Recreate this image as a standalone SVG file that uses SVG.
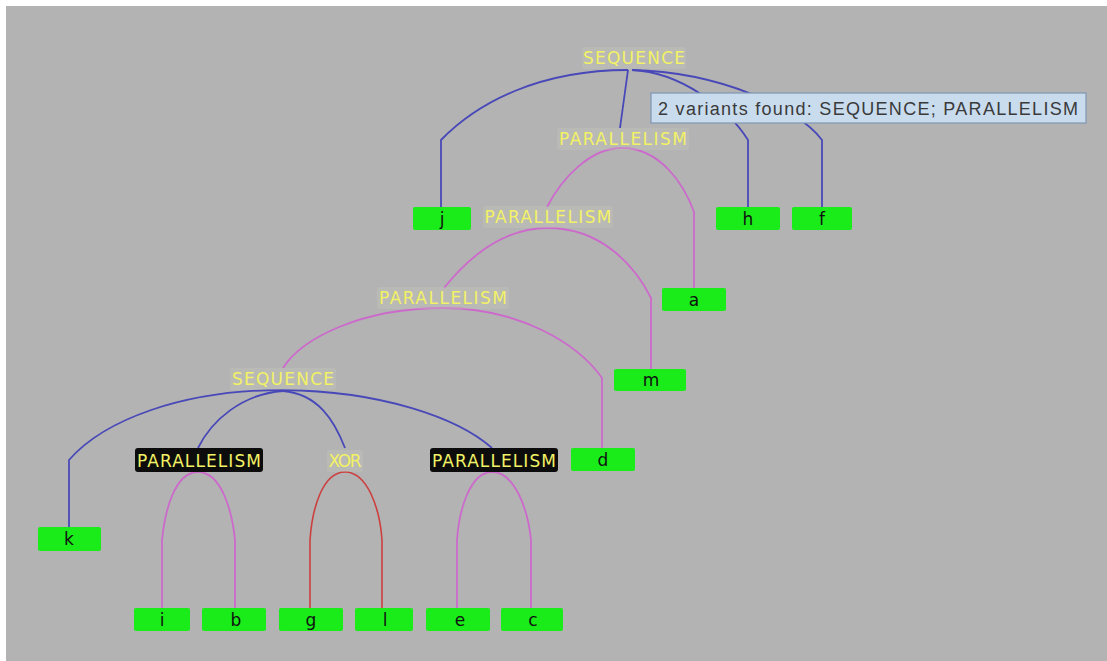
<svg xmlns="http://www.w3.org/2000/svg" width="1107" height="661" viewBox="0 0 1107 661">
  <style>
    .bg { fill: #b3b3b3; }
    .leaf rect { fill: #19ec19; }
    .leaf text { font-family: "DejaVu Sans", "Liberation Sans", sans-serif; font-size: 17px; fill: #111; text-anchor: middle; }
    .op text { font-family: "DejaVu Sans", "Liberation Sans", sans-serif; font-size: 17px; fill: #f2f266; text-anchor: middle; }
    .op .halo { fill: #c8c6b8; opacity: 0.3; }
    .op .dark { fill: #0c0c0c; }
    .seq { stroke: #4848b8; stroke-width: 1.8; fill: none; }
    .par { stroke: #cc6acc; stroke-width: 1.8; fill: none; }
    .xor { stroke: #cc4040; stroke-width: 1.6; fill: none; }
    .tip rect { fill: #c9dcee; stroke: #7f97b4; stroke-width: 1.2; }
    .tip text { font-family: "Liberation Sans", Arial, sans-serif; font-size: 18px; fill: #3a3a3a; }
  </style>

  <!-- canvas -->
  <rect x="0" y="0" width="1107" height="661" fill="#ffffff"/>
  <rect class="bg" x="6" y="6" width="1101" height="655"/>

  <!-- connectors -->
  <g id="connectors">
    <!-- root SEQUENCE -->
    <path class="seq" d="M628,70 C540,70 478,102 441,140 V208"/>
    <path class="seq" d="M628,70 L620,128"/>
    <path class="seq" d="M632,70 C680,72 728,108 748,140 V208"/>
    <path class="seq" d="M632,70 C720,72 798,108 822,140 V208"/>
    <!-- PARALLELISM (level 1) -->
    <path class="par" d="M622,148 C590,148 562,178 547,207"/>
    <path class="par" d="M622,148 C660,148 684,184 694,212 V288"/>
    <!-- PARALLELISM (level 2) -->
    <path class="par" d="M548,228 C502,228 468,258 444,288"/>
    <path class="par" d="M548,228 C600,228 634,264 651,298 V369"/>
    <!-- PARALLELISM (level 3) -->
    <path class="par" d="M443,308 C362,308 302,338 283,368"/>
    <path class="par" d="M443,308 C520,308 578,344 602,378 V448"/>
    <!-- inner SEQUENCE -->
    <path class="seq" d="M283,390 C182,390 104,420 69,460 V527"/>
    <path class="seq" d="M283,391 C242,394 212,420 198,448"/>
    <path class="seq" d="M283,391 C318,394 334,420 345,448"/>
    <path class="seq" d="M283,390 C382,391 458,418 492,448"/>
    <!-- PARALLELISM i / b -->
    <path class="par" d="M198,472 C175,472 165,510 162,540 V608"/>
    <path class="par" d="M198,472 C221,472 232,510 235,540 V608"/>
    <!-- XOR g / l -->
    <path class="xor" d="M345,472 C322,472 312,510 310,540 V608"/>
    <path class="xor" d="M345,472 C368,472 380,510 382,540 V608"/>
    <!-- PARALLELISM e / c -->
    <path class="par" d="M492,472 C470,472 459,510 457,540 V608"/>
    <path class="par" d="M492,472 C515,472 528,510 531,540 V608"/>
  </g>

  <!-- operator nodes -->
  <g id="op-seq-root" class="op">
    <rect class="halo" x="582" y="47" width="104" height="22" rx="2"/>
    <text x="634" y="64" textLength="102">SEQUENCE</text>
  </g>
  <g id="op-par-1" class="op">
    <rect class="halo" x="557" y="128" width="132" height="22" rx="2"/>
    <text x="623" y="145" textLength="128">PARALLELISM</text>
  </g>
  <g id="op-par-2" class="op">
    <rect class="halo" x="483" y="206" width="130" height="22" rx="2"/>
    <text x="548" y="223" textLength="127">PARALLELISM</text>
  </g>
  <g id="op-par-3" class="op">
    <rect class="halo" x="377" y="287" width="132" height="22" rx="2"/>
    <text x="443" y="304" textLength="128">PARALLELISM</text>
  </g>
  <g id="op-seq-inner" class="op">
    <rect class="halo" x="230" y="368" width="106" height="22" rx="2"/>
    <text x="283" y="385" textLength="102">SEQUENCE</text>
  </g>
  <g id="op-par-ib" class="op">
    <rect class="dark" x="135" y="448" width="128" height="24" rx="3"/>
    <text x="199" y="467" textLength="124">PARALLELISM</text>
  </g>
  <g id="op-xor" class="op">
    <rect class="halo" x="327" y="450" width="36" height="22" rx="2"/>
    <text x="345" y="467" textLength="33">XOR</text>
  </g>
  <g id="op-par-ec" class="op">
    <rect class="dark" x="430" y="448" width="128" height="24" rx="3"/>
    <text x="494" y="467" textLength="124">PARALLELISM</text>
  </g>

  <!-- activity leaves -->
  <g id="leaf-j" class="leaf"><rect x="413" y="207" width="58" height="23" rx="2"/><text x="442" y="225">j</text></g>
  <g id="leaf-h" class="leaf"><rect x="716" y="207" width="64" height="23" rx="2"/><text x="748" y="225">h</text></g>
  <g id="leaf-f" class="leaf"><rect x="792" y="207" width="60" height="23" rx="2"/><text x="822" y="225">f</text></g>
  <g id="leaf-a" class="leaf"><rect x="662" y="288" width="64" height="23" rx="2"/><text x="694" y="306">a</text></g>
  <g id="leaf-m" class="leaf"><rect x="614" y="369" width="72" height="22" rx="2"/><text x="651" y="386">m</text></g>
  <g id="leaf-d" class="leaf"><rect x="571" y="448" width="64" height="23" rx="2"/><text x="603" y="466">d</text></g>
  <g id="leaf-k" class="leaf"><rect x="38" y="527" width="63" height="24" rx="2"/><text x="69" y="545">k</text></g>
  <g id="leaf-i" class="leaf"><rect x="134" y="608" width="56" height="23" rx="2"/><text x="162" y="626">i</text></g>
  <g id="leaf-b" class="leaf"><rect x="202" y="608" width="64" height="23" rx="2"/><text x="236" y="626">b</text></g>
  <g id="leaf-g" class="leaf"><rect x="279" y="608" width="64" height="23" rx="2"/><text x="311" y="626">g</text></g>
  <g id="leaf-l" class="leaf"><rect x="355" y="608" width="58" height="23" rx="2"/><text x="385" y="626">l</text></g>
  <g id="leaf-e" class="leaf"><rect x="426" y="608" width="64" height="23" rx="2"/><text x="460" y="626">e</text></g>
  <g id="leaf-c" class="leaf"><rect x="501" y="608" width="62" height="23" rx="2"/><text x="533" y="626">c</text></g>

  <!-- tooltip -->
  <g id="tooltip" class="tip">
    <rect x="651" y="93" width="435" height="30"/>
    <text x="658" y="115" textLength="420">2 variants found: SEQUENCE; PARALLELISM</text>
  </g>
</svg>
